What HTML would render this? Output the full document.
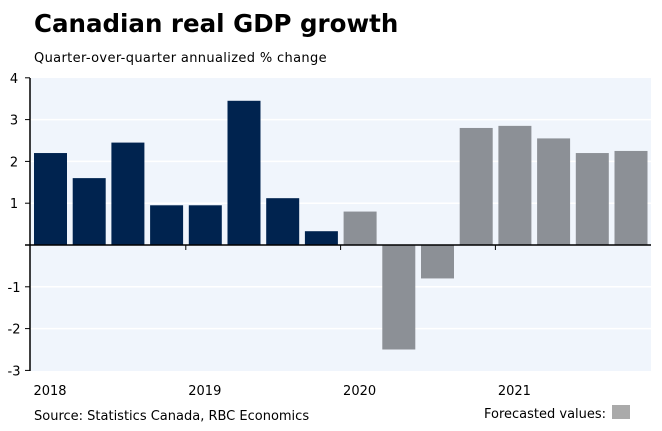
<!DOCTYPE html>
<html><head><meta charset="utf-8"><style>
body{margin:0;background:#fff;width:662px;height:427px;overflow:hidden;font-family:"DejaVu Sans","Liberation Sans",sans-serif}
</style></head><body>
<svg width="662" height="427" xmlns="http://www.w3.org/2000/svg">
<text x="34" y="32" font-size="24.5" font-weight="bold" fill="#000">Canadian real GDP growth</text>
<text x="34" y="62" font-size="13" letter-spacing="0.35" fill="#000">Quarter-over-quarter annualized % change</text>
<rect x="30" y="78" width="621" height="293" fill="#f0f5fc"/>
<g id="grid"></g><g id="bars"></g><g id="axes"></g>
<text x="34" y="420" font-size="13" fill="#000">Source: Statistics Canada, RBC Economics</text>
<text x="484" y="418" font-size="13" fill="#000">Forecasted values:</text>
<rect x="612" y="405" width="18" height="14" fill="#aaaaaa"/>
</svg>
<script>
const values=[2.2,1.6,2.45,0.95,0.95,3.45,1.12,0.33,0.8,-2.5,-0.8,2.8,2.85,2.55,2.2,2.25];
const forecast=[0,0,0,0,0,0,0,0,1,1,1,1,1,1,1,1];
const yTicks=[4,3,2,1,0,-1,-2,-3];
const years=["2018","2019","2020","2021"];
const NS="http://www.w3.org/2000/svg";
const y=v=>245-v*41.8;
const x0=31,pitch=38.7;
function mk(t,a,p){const e=document.createElementNS(NS,t);for(const k in a)e.setAttribute(k,a[k]);p.appendChild(e);return e;}
const grid=document.getElementById('grid'),bars=document.getElementById('bars'),axes=document.getElementById('axes');
yTicks.forEach(v=>{
 if(v!==0&&v!==4&&v!==-3){const g=mk('line',{x1:30,x2:651,y1:y(v),y2:y(v),stroke:'#fff','stroke-width':1.5},grid);
 
 }
 const t=mk('text',{x:14,y:y(v)+5,'font-size':13,fill:'#000','text-anchor':'middle'},axes);
 t.textContent=v===0?'':v;
 
 
 const tk=mk('line',{x1:25,x2:30,y1:y(v),y2:y(v),stroke:'#000'},axes);
 
 
});
values.forEach((v,i)=>{
 const bx=x0+i*pitch+3,top=Math.min(y(v),y(0)),h=Math.abs(y(v)-y(0));
 const r=mk('rect',{x:bx,y:top,width:33,height:h,fill:forecast[i]?'#8c9096':'#00234f'},bars);
 
 
});
const ya=mk('line',{x1:30,x2:30,y1:78,y2:371,stroke:'#000','stroke-width':1.5},axes);


const za=mk('line',{x1:25,x2:651,y1:y(0),y2:y(0),stroke:'#000','stroke-width':1.5},axes);


years.forEach((yr,j)=>{
 const bx=x0+j*4*pitch;
 if(j>0){const tk=mk('line',{x1:bx,x2:bx,y1:y(0),y2:y(0)+5,stroke:'#000'},axes);
 
 }
 const t=mk('text',{x:bx+19,y:395,'font-size':13,fill:'#000','text-anchor':'middle'},axes);
 t.textContent=yr;
 
 
});
</script>
</body></html>
